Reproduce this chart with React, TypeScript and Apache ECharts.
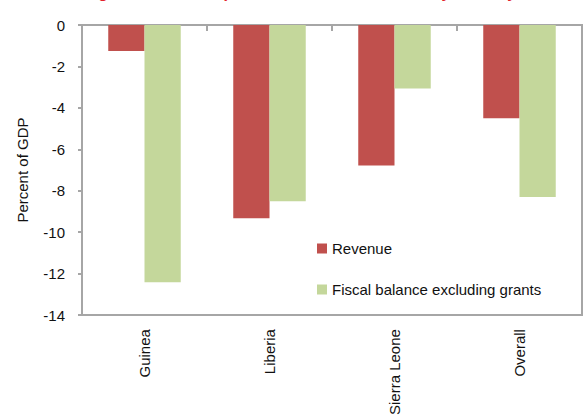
import React, { useEffect, useRef } from "react";
import * as echarts from "echarts";

const categories = ["Guinea", "Liberia", "Sierra Leone", "Overall"];
const revenue = [-1.26, -9.32, -6.78, -4.5];
const fiscalBalance = [-12.42, -8.5, -3.06, -8.3];
const seriesNames = ["Revenue", "Fiscal balance excluding grants"];
const yMin = -14;
const yMax = 0;
const yInterval = 2;
const titleText = "Figure 2. Fiscal Impact of the Ebola Outbreak by Country";

const FONT = "'Liberation Sans', Arial, sans-serif";

export default function App() {
  const ref = useRef<HTMLDivElement>(null);
  useEffect(() => {
    if (!ref.current) return;
    const chart = echarts.init(ref.current, undefined, { renderer: "svg" });
    chart.setOption({
      animation: false,
      backgroundColor: "#ffffff",
      textStyle: { fontFamily: FONT },
      graphic: [
        {
          type: "text",
          left: 84,
          top: -16,
          style: {
            text: titleText,
            fill: "#e3222b",
            font: `bold 16px ${FONT}`,
          },
        },
      ],
      grid: {
        left: 82,
        top: 25,
        width: 500,
        height: 293,
        show: true,
        borderColor: "#a6a6a6",
        borderWidth: 2,
        containLabel: false,
      },
      legend: {
        orient: "vertical",
        left: 317,
        top: 241,
        padding: 0,
        itemWidth: 10,
        itemHeight: 10,
        itemGap: 26,
        icon: "rect",
        data: seriesNames,
        textStyle: { fontSize: 15, color: "#111", fontFamily: FONT },
      },
      xAxis: [
        {
          type: "category",
          data: categories,
          position: "bottom",
          axisLine: { show: false, onZero: false },
          axisTick: { show: false },
          axisLabel: {
            rotate: 90,
            margin: 14,
            fontSize: 15,
            color: "#111",
            fontFamily: FONT,
          },
        },
        {
          type: "category",
          data: categories,
          position: "top",
          axisLine: { show: true, onZero: false, lineStyle: { color: "#a6a6a6", width: 2 } },
          axisTick: { show: true, inside: true, length: 6, lineStyle: { color: "#a6a6a6", width: 2 } },
          axisLabel: { show: false },
        },
      ],
      yAxis: {
        type: "value",
        min: yMin,
        max: yMax,
        interval: yInterval,
        name: "Percent of GDP",
        nameLocation: "middle",
        nameGap: 52,
        nameTextStyle: { fontSize: 15, color: "#111", fontFamily: FONT },
        axisLine: { show: true, lineStyle: { color: "#a6a6a6", width: 2 } },
        axisTick: { show: true, length: 4, lineStyle: { color: "#a6a6a6", width: 2 } },
        splitLine: { show: false },
        axisLabel: { margin: 17, fontSize: 15, color: "#111", fontFamily: FONT },
      },
      series: [
        {
          name: seriesNames[0],
          type: "bar",
          data: revenue,
          xAxisIndex: 0,
          barGap: "0%",
          barCategoryGap: "42%",
          itemStyle: { color: "#c0504d" },
        },
        {
          name: seriesNames[1],
          type: "bar",
          data: fiscalBalance,
          xAxisIndex: 0,
          barGap: "0%",
          barCategoryGap: "42%",
          itemStyle: { color: "#c4d79b" },
        },
      ],
    });
    return () => chart.dispose();
  }, []);
  return <div ref={ref} style={{ width: 583, height: 418, position: "absolute", left: 0, top: 0 }} />;
}
